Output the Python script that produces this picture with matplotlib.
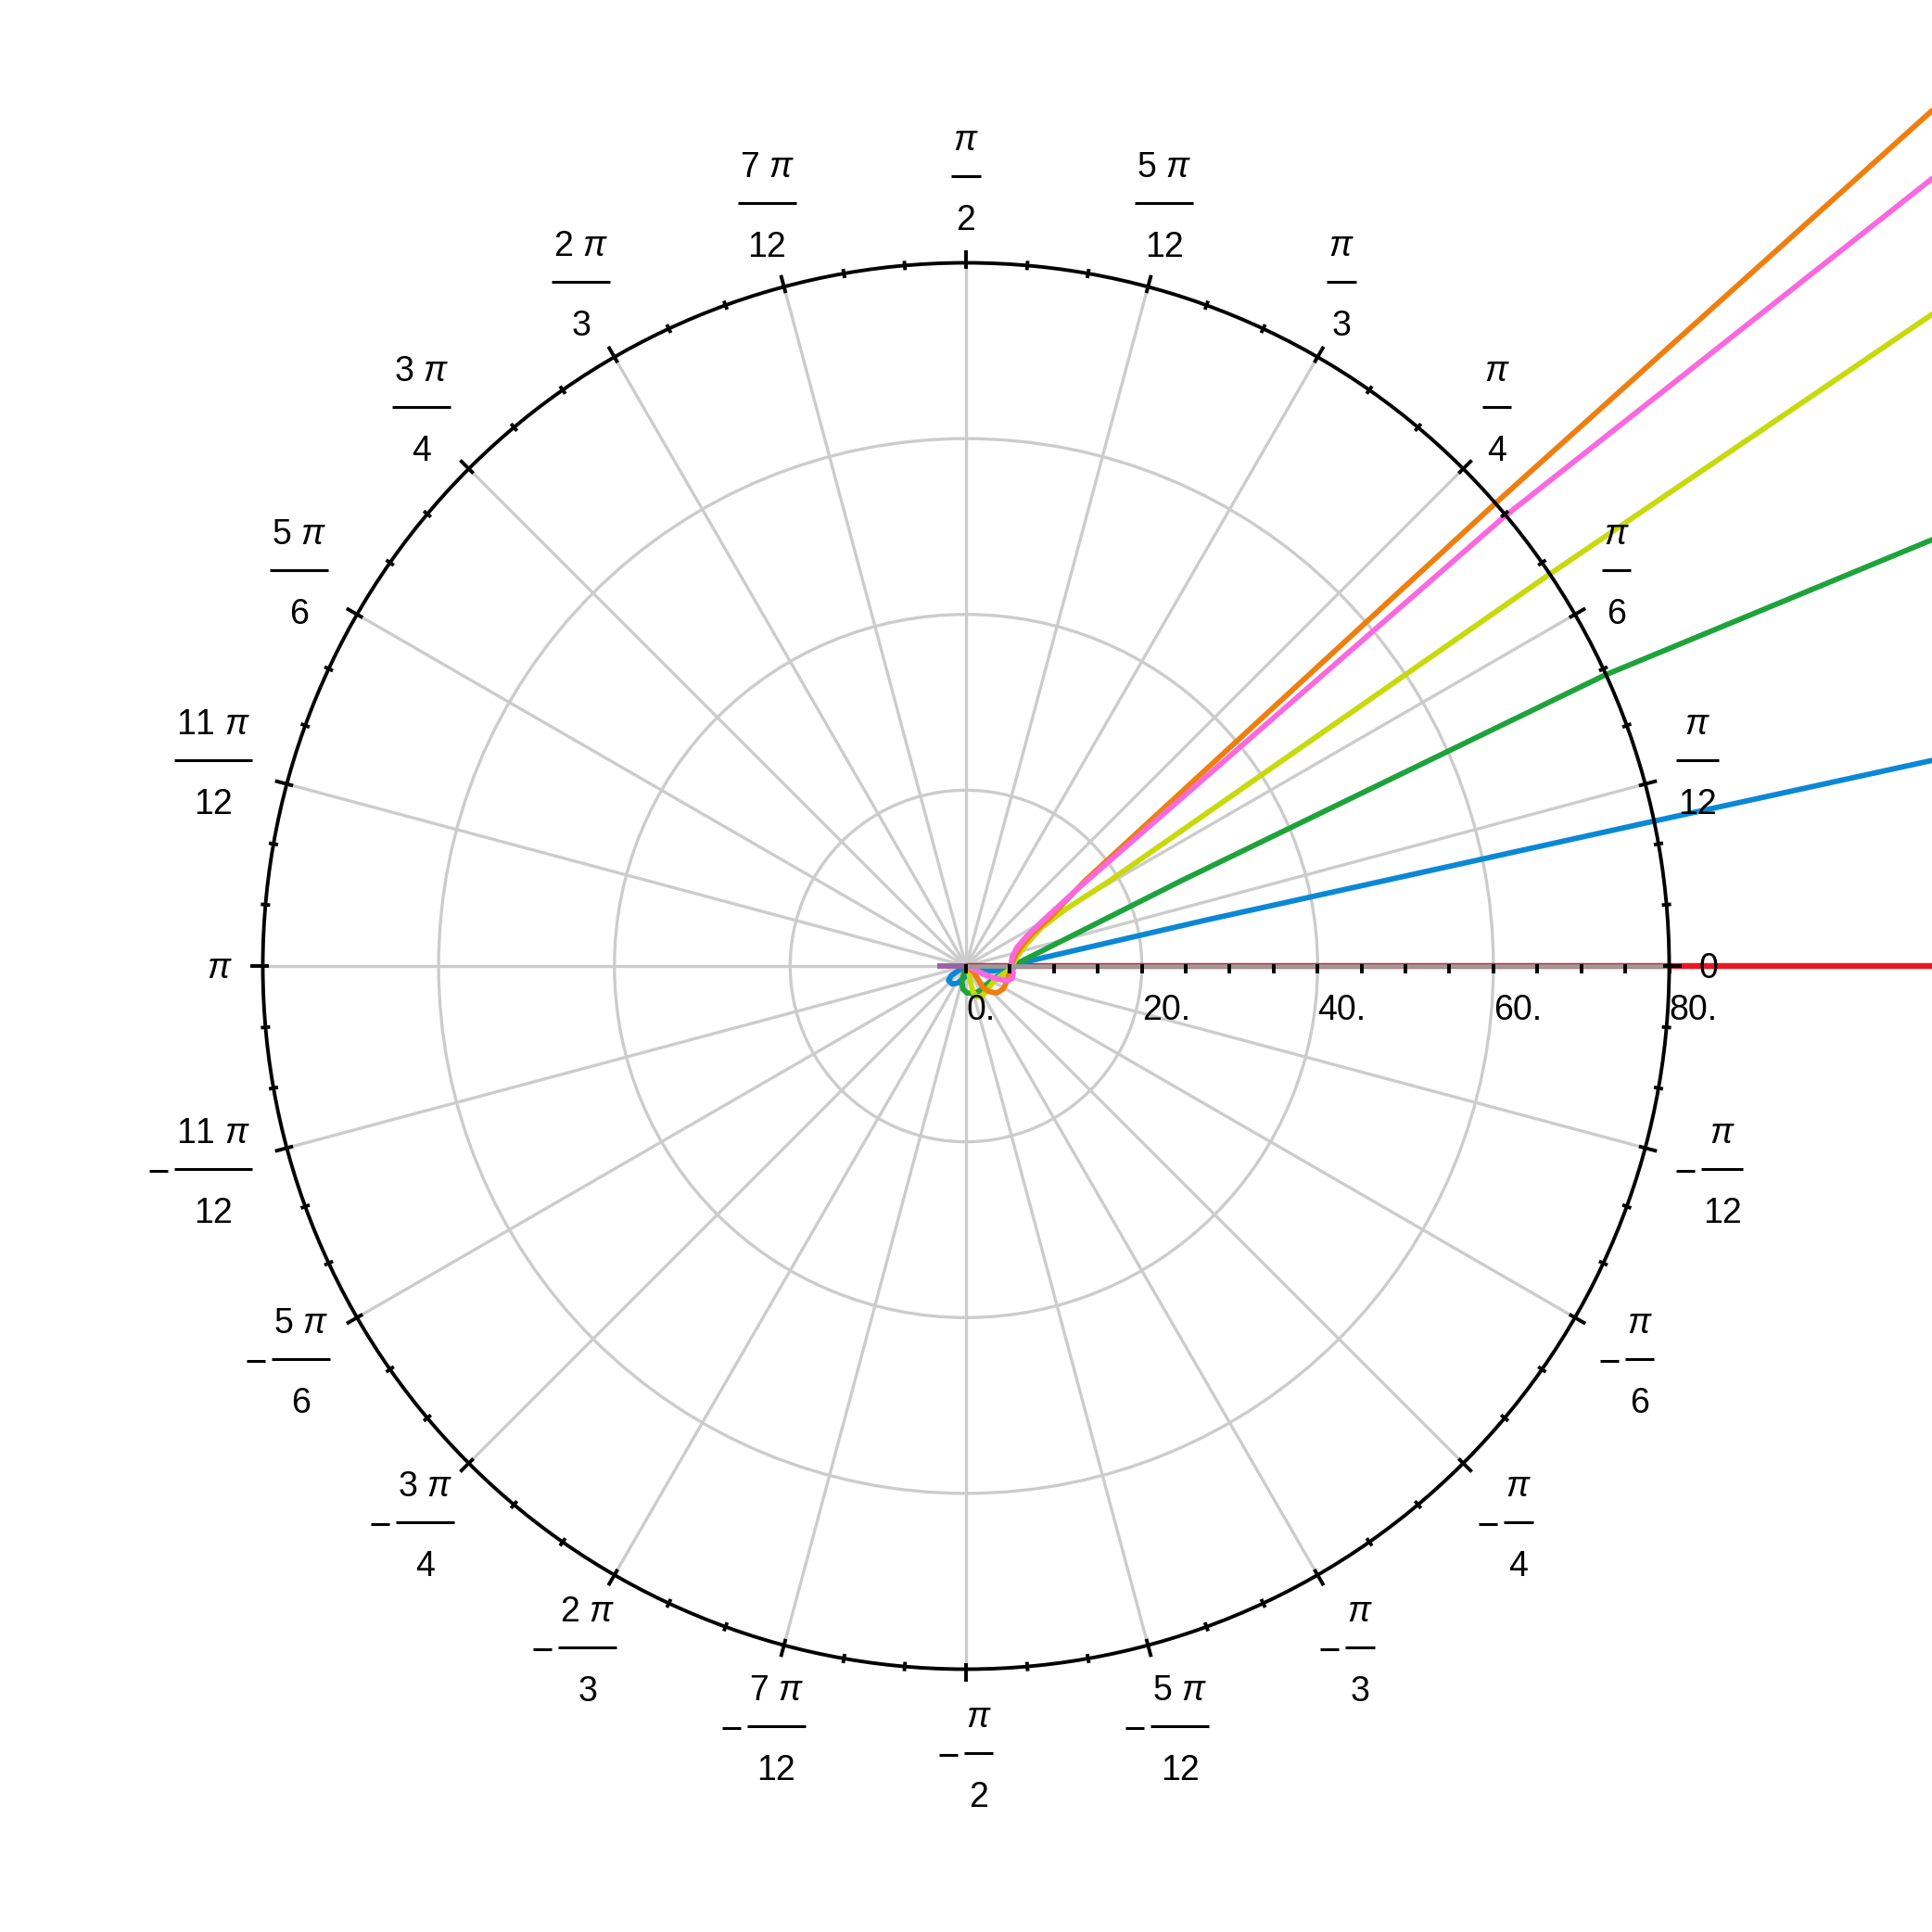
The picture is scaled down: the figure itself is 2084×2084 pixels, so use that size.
import numpy as np
import matplotlib
matplotlib.use("Agg")
import matplotlib.pyplot as plt
from matplotlib.patches import Circle

plt.rcParams['font.family'] = ['Liberation Sans', 'DejaVu Sans']
plt.rcParams['mathtext.fontset'] = 'custom'
plt.rcParams['mathtext.rm'] = 'Liberation Sans'
plt.rcParams['mathtext.it'] = 'Liberation Sans:italic'

# ---------------- data (cartesian coordinates of the polar curves) ----------------
red_x = [0.0, 115.0]
red_y = [0.0, 0.0]

blue_x = [0.0, -0.88, -1.65, -2.0, -1.58, -0.88, -0.18, 0.35, 1.40, 3.34, 4.57, 5.27, 5.80, 27.2, 77.9, 115.0]
blue_y = [0.0, -0.53, -1.05, -1.65, -2.04, -1.93, -1.30, -0.70, -0.53, -0.53, -0.42, -0.11, 0.25, 5.2, 16.4, 24.5]

green_x = [0.0, -0.25, -0.46, -0.35, 0.11, 0.88, 1.58, 2.46, 3.51, 4.57, 5.44, 6.15, 24.41, 72.7, 115.0]
green_y = [0.0, -0.88, -1.76, -2.63, -3.06, -3.16, -2.81, -2.0, -1.23, -0.70, -0.18, 0.46, 9.66, 33.1, 50.6]

yellow_x = [0.0, 0.35, 0.53, 0.81, 1.23, 1.86, 2.46, 3.16, 4.04, 4.81, 5.27, 5.80, 6.85, 8.6, 11.4, 16.3, 66.0, 115.0]
yellow_y = [0.0, -0.88, -1.93, -2.99, -3.51, -3.41, -2.63, -1.76, -1.05, -0.53, 0.11, 1.05, 2.46, 4.39, 6.5, 9.66, 44.3, 77.6]

orange_x = [0.0, 0.88, 1.40, 1.93, 2.63, 3.51, 4.21, 4.57, 4.81, 5.02, 5.27, 5.62, 6.32, 7.55, 9.66, 13.5, 60.4, 115.0]
orange_y = [0.0, -0.70, -1.58, -2.46, -2.92, -3.06, -2.63, -1.93, -1.23, -0.53, 0.35, 1.23, 2.28, 3.69, 5.62, 9.66, 52.8, 101.9]

pink_x = [0.0, 0.88, 1.93, 2.99, 4.04, 4.81, 5.27, 5.37, 5.27, 5.16, 5.27, 5.80, 6.85, 9.0, 12.5, 18.0, 61.1, 115.0]
pink_y = [0.0, -0.35, -0.88, -1.30, -1.58, -1.65, -1.40, -0.88, -0.18, 0.46, 1.05, 2.11, 3.34, 5.4, 8.6, 13.4, 51.0, 93.6]

gray_x = [0.0, 80.0]
gray_y = [0.0, 0.0]

purple_x = [-3.3, 0.0]
purple_y = [0.0, 0.0]

series = [
    (red_x, red_y, '#EC1620', 2.3),
    (blue_x, blue_y, '#0A88D6', 2.1),
    (green_x, green_y, '#1EA33C', 2.1),
    (yellow_x, yellow_y, '#C8D90C', 2.1),
    (orange_x, orange_y, '#EE7F0F', 2.1),
    (pink_x, pink_y, '#FA68DF', 2.1),
    (gray_x, gray_y, '#9A9A9A', 1.7),
    (purple_x, purple_y, '#9A62A6', 2.1),
]

# ---------------- axis definitions ----------------
R_MAX = 80.0
R_GRID = [20, 40, 60]
R_TICKS = list(range(0, 81, 5))
R_LABELS = {0: "0.", 20: "20.", 40: "40.", 60: "60.", 80: "80."}
ANGLES = [0, 15, 30, 45, 60, 75, 90, 105, 120, 135, 150, 165, 180,
          -15, -30, -45, -60, -75, -90, -105, -120, -135, -150, -165]
ANGLE_NUMS = ["0", r"$\pi$", r"$\pi$", r"$\pi$", r"$\pi$", r"5 $\pi$", r"$\pi$", r"7 $\pi$",
              r"2 $\pi$", r"3 $\pi$", r"5 $\pi$", r"11 $\pi$", r"$\pi$",
              r"$\pi$", r"$\pi$", r"$\pi$", r"$\pi$", r"5 $\pi$", r"$\pi$", r"7 $\pi$",
              r"2 $\pi$", r"3 $\pi$", r"5 $\pi$", r"11 $\pi$"]
ANGLE_DENS = [None, "12", "6", "4", "3", "12", "2", "12", "3", "4", "6", "12", None,
              "12", "6", "4", "3", "12", "2", "12", "3", "4", "6", "12"]

# ---------------- figure ----------------
W = 2084
DPI = 200
L = 109.9
fig = plt.figure(figsize=(W / DPI, W / DPI), dpi=DPI)
ax = fig.add_axes([0, 0, 1, 1])
ax.set_xlim(-L, L)
ax.set_ylim(-L, L)
ax.set_aspect('equal')
ax.axis('off')
PPU = W / (2 * L)  # pixels per unit
def u(px):
    return px / PPU

GRID_C = '#cccccc'
for a in range(0, 360, 15):
    t = np.deg2rad(a)
    ax.plot([0, R_MAX * np.cos(t)], [0, R_MAX * np.sin(t)], color=GRID_C, lw=1.2, zorder=1)
for r in R_GRID:
    ax.add_patch(Circle((0, 0), r, fill=False, ec=GRID_C, lw=1.2, zorder=1))

# curves
for xs, ys, c, lw in series:
    ax.plot(xs, ys, color=c, lw=lw, zorder=3, solid_capstyle='butt', solid_joinstyle='round')

# outer circle and angular ticks
ax.add_patch(Circle((0, 0), R_MAX, fill=False, ec='black', lw=1.4, zorder=5))
for a in range(0, 360, 5):
    t = np.deg2rad(a)
    if a % 15 == 0:
        r0, r1 = R_MAX - u(7), R_MAX + u(13)
    else:
        r0, r1 = R_MAX - u(5), R_MAX + u(5)
    ax.plot([r0 * np.cos(t), r1 * np.cos(t)], [r0 * np.sin(t), r1 * np.sin(t)],
            color='black', lw=1.4, zorder=5, solid_capstyle='butt')

# radial ticks and labels
FS = 13.5
for r in R_TICKS:
    ax.plot([r, r], [u(2), -u(8)], color='black', lw=1.4, zorder=6, solid_capstyle='butt')
    if r in R_LABELS:
        ax.text(r, -u(58), R_LABELS[r], fontsize=FS, ha='left', va='baseline', zorder=6)

# angular labels (box anchored on the circle at relative position (-cos, -sin))
renderer = fig.canvas.get_renderer()
def measure(s):
    t = ax.text(0, 0, s, fontsize=FS)
    bb = t.get_window_extent(renderer)
    t.remove()
    return bb.width

R_LAB = 791.0
for a, num, den in zip(ANGLES, ANGLE_NUMS, ANGLE_DENS):
    t = np.deg2rad(a)
    c, s = np.cos(t), np.sin(t)
    neg = a < 0
    if den is None:
        w = measure(num)
        hw, hh = w / 2, 14.0
        cx = (R_LAB + hw) * c
        cy = (R_LAB + hh) * s
        ax.text(u(cx), u(cy - 13), num, fontsize=FS, ha='center', va='baseline')
        continue
    barw = max(measure(num), measure(den)) + 4
    hw = (barw + (27 if neg else 0)) / 2 + (3 if c > 1e-6 else 8)
    hh = 59.5
    cx = (R_LAB + hw) * c
    cy = (R_LAB + hh) * s
    bx = cx + (13.5 if neg else 0)
    by = cy + 1.5
    ax.plot([u(bx - barw / 2), u(bx + barw / 2)], [u(by), u(by)], color='black', lw=1.1,
            solid_capstyle='butt')
    ax.text(u(bx), u(by + 28), num, fontsize=FS, ha='center', va='baseline')
    ax.text(u(bx), u(by - 58), den, fontsize=FS, ha='center', va='baseline')
    if neg:
        mx1 = bx - barw / 2 - 7
        ax.plot([u(mx1 - 20), u(mx1)], [u(by - 2), u(by - 2)], color='black', lw=1.1,
                solid_capstyle='butt')

fig.savefig('out.png', dpi=DPI)
